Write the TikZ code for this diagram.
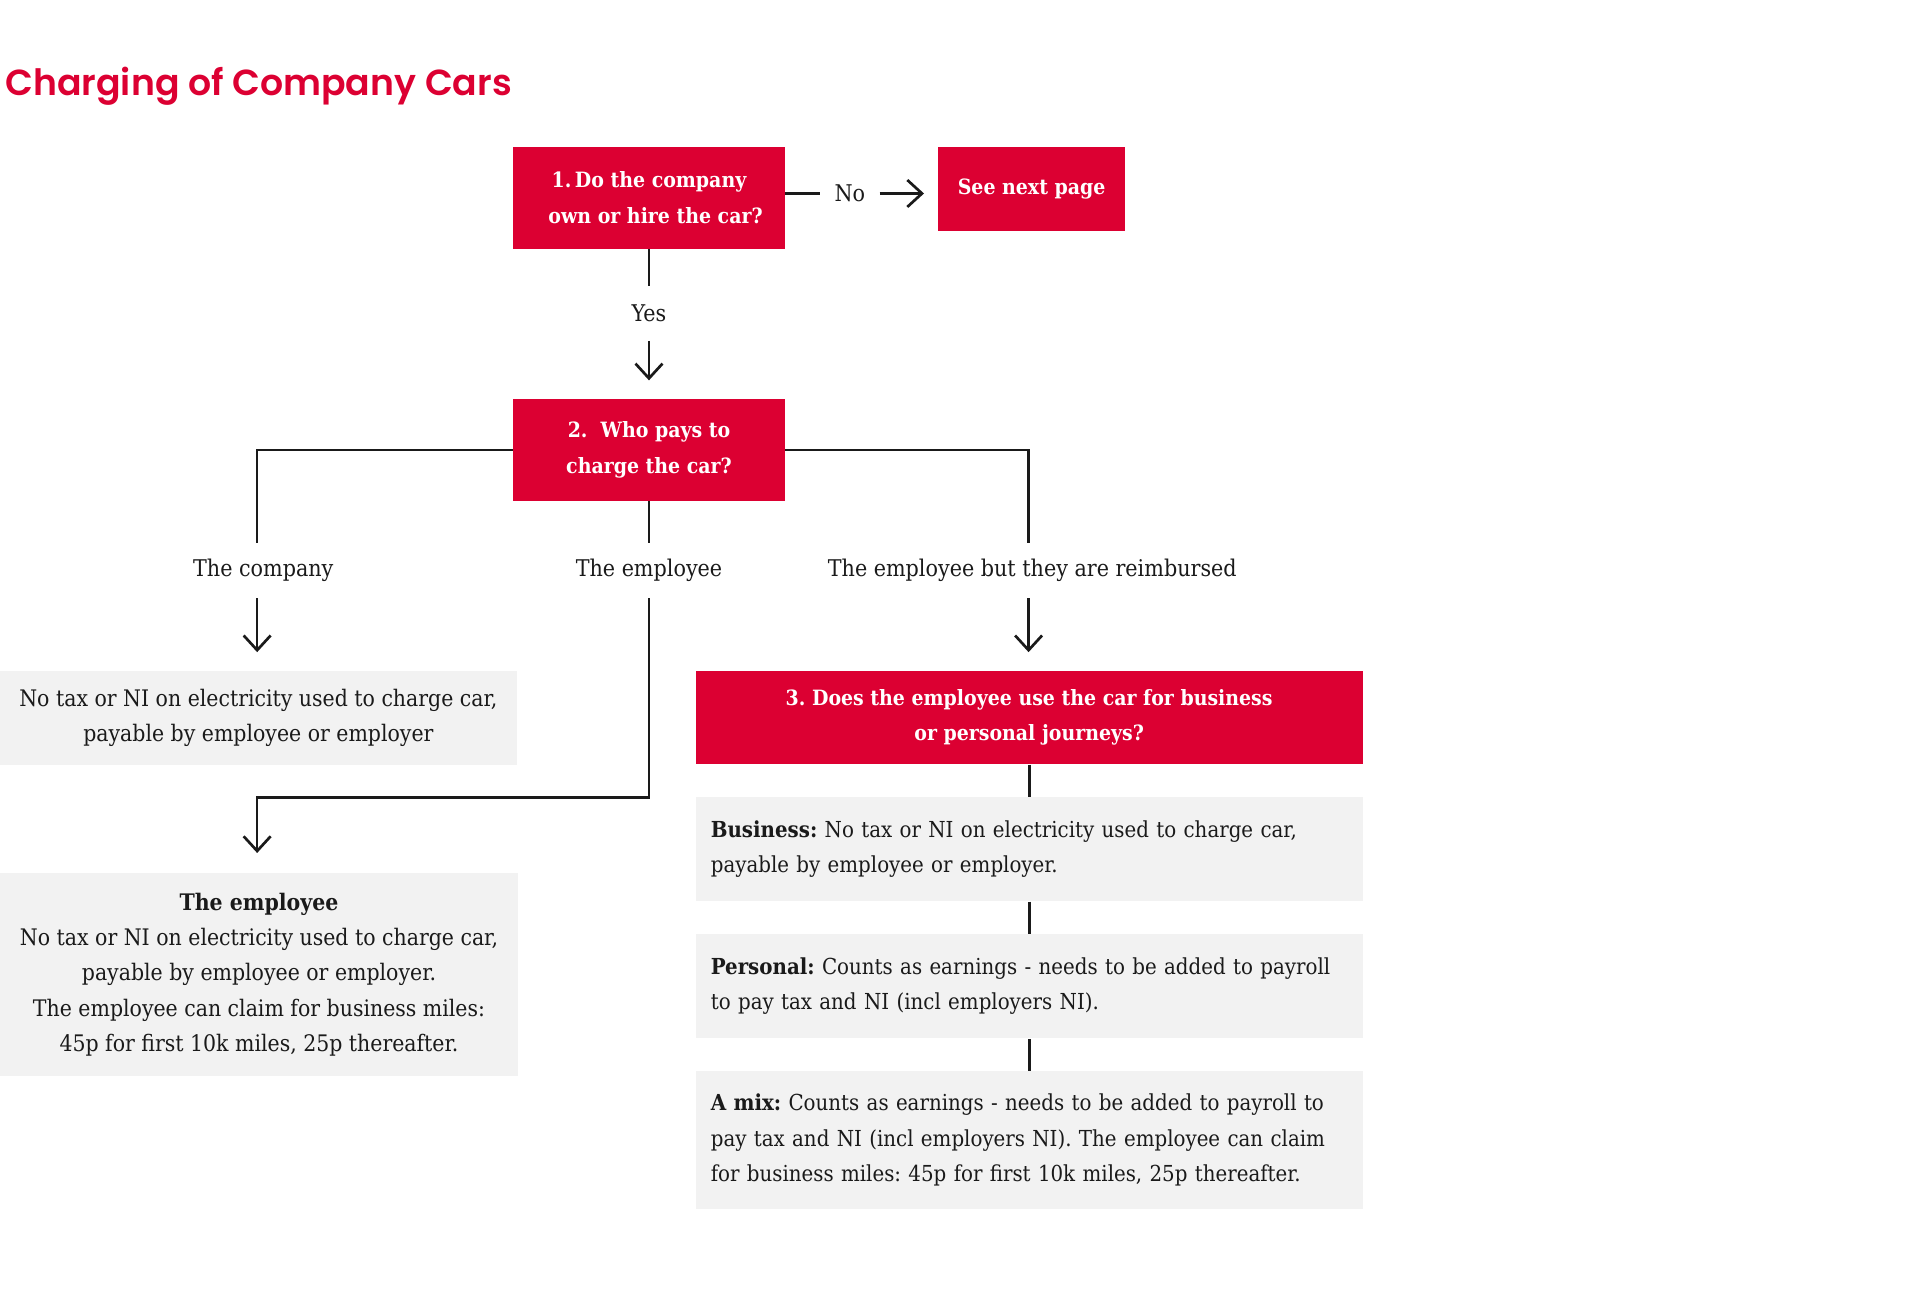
\documentclass[tikz,border=0pt]{standalone}
\usepackage{fontspec}
\setmainfont{DejaVu Serif Condensed}
\newfontfamily\titlefont{Poppins SemiBold}
\usetikzlibrary{arrows.meta}
\definecolor{brandred}{HTML}{DC0032}
\definecolor{boxgray}{HTML}{F2F2F2}
\definecolor{ink}{HTML}{1A1A1A}
\frenchspacing
\begin{document}
\begin{tikzpicture}[x=0.5pt,y=-0.5pt,
  redbox/.style={fill=brandred, text=white, font=\bfseries\fontsize{8.6}{14.5}\selectfont, align=center, inner sep=0pt},
  graybox/.style={fill=boxgray, text=ink, font=\fontsize{9.3}{14.4}\selectfont, inner sep=0pt},
  infobox/.style={fill=boxgray, text=ink, font=\fontsize{9.0}{14.4}\selectfont, inner sep=0pt, align=left, text width=260pt, minimum width=272.5pt},
  lbl/.style={text=ink, font=\fontsize{9.4}{10}\selectfont, inner sep=0pt},
  conn/.style={draw=ink, line width=1.1pt},
  arr/.style={conn, -{Straight Barb[length=6pt,width=11pt]}},
]
\useasboundingbox (0,0) rectangle (1568,1070.6);

% title
\node[anchor=base west, inner sep=0pt, text=brandred, font=\titlefont\fontsize{14.8}{18}\selectfont] (title) at (4,78) {Charging of Company Cars};

% red boxes
\node[redbox, minimum width=111pt, minimum height=41.5pt] (b1) at (530,161.5) {1.\,Do the company\\ \ \ own or hire the car?};
\node[redbox, minimum width=76.5pt, minimum height=34.5pt] (see) at (842.5,154.5) {See next page};
\node[redbox, minimum width=111pt, minimum height=41.5pt] (b2) at (530,367.5) {2.\ \ Who pays to\\ charge the car?};
\node[redbox, minimum width=272.5pt, minimum height=38pt] (b3) at (840.5,586) {3. Does the employee use the car for business\\ or personal journeys?};

% gray boxes
\node[graybox, align=center, minimum width=211pt, minimum height=38.5pt] (ga) at (211,586.5) {No tax or NI on electricity used to charge car,\\ payable by employee or employer};
\node[graybox, align=center, minimum width=211.5pt, minimum height=83pt] (gb) at (211.5,796) {\textbf{The employee}\\ No tax or NI on electricity used to charge car,\\ payable by employee or employer.\\ The employee can claim for business miles:\\ 45p for first 10k miles, 25p thereafter.};
\node[infobox, minimum height=42.5pt] (bus) at (840.5,693.5) {\textbf{Business:} No tax or NI on electricity used to charge car,\\ payable by employee or employer.};
\node[infobox, minimum height=42.5pt] (per) at (840.5,805.5) {\textbf{Personal:} Counts as earnings - needs to be added to payroll\\ to pay tax and NI (incl employers NI).};
\node[infobox, minimum height=56pt] (mix) at (840.5,931) {\textbf{A mix:} Counts as earnings - needs to be added to payroll to\\ pay tax and NI (incl employers NI). The employee can claim\\ for business miles: 45p for first 10k miles, 25p thereafter.};

% labels
\node[lbl, minimum width=24pt] (no) at (694,158) {No};
\node[lbl, minimum height=22pt] (yes) at (530,256) {Yes};
\node[lbl, minimum height=22pt] (lc) at (215,466) {The company};
\node[lbl, minimum height=22pt] (le) at (530,466) {The employee};
\node[lbl, minimum height=22pt] (lr) at (843,466) {The employee but they are reimbursed};
\coordinate (bend) at (530,651);

% connectors
\draw[conn] (b1.east |- no.west) -- (no.west);
\draw[arr, shorten >=5.5pt] (no.east) -- (see.west |- no.east);
\draw[conn] (b1.south) -- (yes.north);
\draw[arr, shorten >=7.5pt] (yes.south) -- (b2.north);
\draw[conn] (b2.west) -| ([xshift=-2.5pt]lc.north);
\draw[arr, shorten >=7.5pt] ([xshift=-2.5pt]lc.south) -- ([xshift=-2.5pt]lc.south |- ga.north);
\draw[conn] (b2.south) -- (le.north);
\draw[arr, shorten >=8pt] (le.south) -- (bend) -| ([xshift=-2.5pt]lc.south |- gb.north);
\draw[conn] (b2.east) -| ([xshift=-1.5pt]lr.north);
\draw[arr, shorten >=7.5pt] ([xshift=-1.5pt]lr.south) -- ([xshift=-1.5pt]lr.south |- b3.north);
\draw[conn] (b3.south) -- (bus.north);
\draw[conn] (bus.south) -- (per.north);
\draw[conn] (per.south) -- (mix.north);
\end{tikzpicture}
\end{document}
